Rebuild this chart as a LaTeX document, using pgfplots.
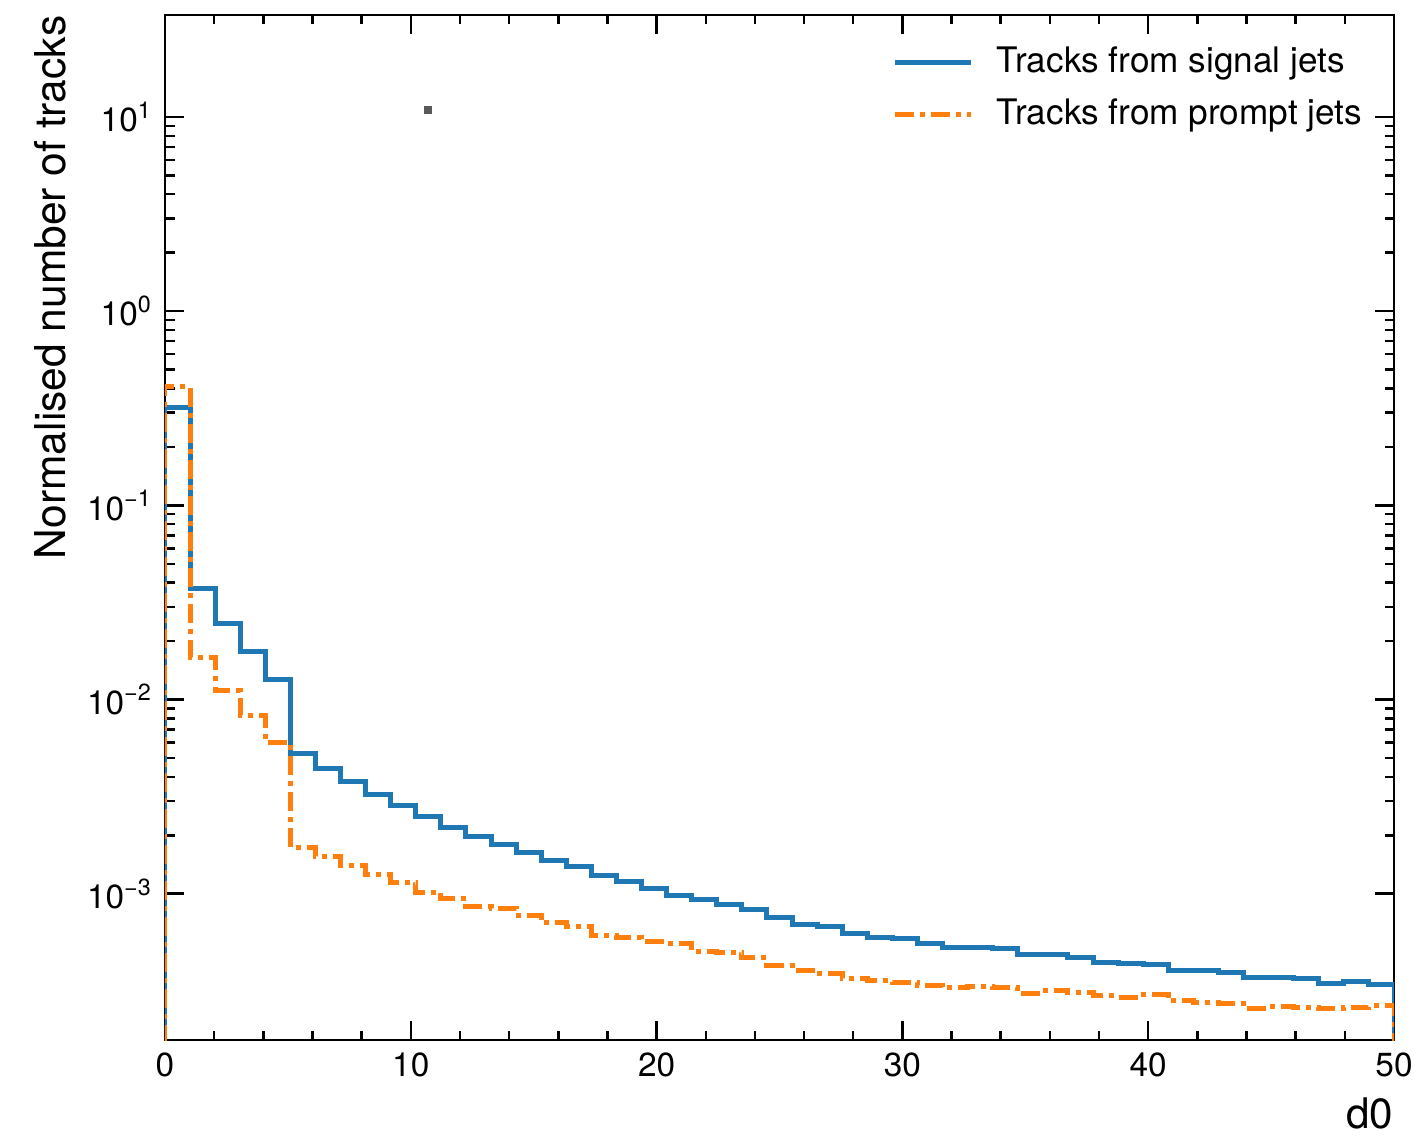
\documentclass[border=0pt]{standalone}
\usepackage{fontspec}
\setmainfont{TeX Gyre Heros}
\usepackage{pgfplots}
\usepackage{pgfplotstable}
\pgfplotsset{compat=1.18}

\definecolor{mplblue}{HTML}{1F77B4}
\definecolor{mplorange}{HTML}{FF7F0E}

% bin edges: 49 bins from 0 to 50; first/last rows close the step outline
\pgfplotstableread{
x       sig       prompt
0       1e-6      1e-6
0       0.318     0.408
1.0204  0.0374    0.0165
2.0408  0.0247    0.0111
3.0612  0.0176    0.00832
4.0816  0.0127    0.0060
5.1020  0.00528   0.00173
6.1224  0.00442   0.00155
7.1429  0.00378   0.00139
8.1633  0.00324   0.00125
9.1837  0.00283   0.00114
10.2041 0.00249   0.00102
11.2245 0.00219   0.000946
12.2449 0.00197   0.000857
13.2653 0.00180   0.000841
14.2857 0.00163   0.000777
15.3061 0.00148   0.000709
16.3265 0.00138   0.000676
17.3469 0.00124   0.000612
18.3673 0.00115   0.000593
19.3878 0.00107   0.000566
20.4082 0.000977  0.000555
21.4286 0.000929  0.000507
22.4490 0.000882  0.000499
23.4694 0.000831  0.000468
24.4898 0.000756  0.000426
25.5102 0.000698  0.000403
26.5306 0.000682  0.000387
27.5510 0.000625  0.000368
28.5714 0.000596  0.000358
29.5918 0.000589  0.000351
30.6122 0.000555  0.000337
31.6327 0.000530  0.000327
32.6531 0.000526  0.000334
33.6735 0.000524  0.000327
34.6939 0.000489  0.000307
35.7143 0.000488  0.000319
36.7347 0.000470  0.000309
37.7551 0.000441  0.000298
38.7755 0.000438  0.000293
39.7959 0.000433  0.000302
40.8163 0.000400  0.000281
41.8367 0.000403  0.000275
42.8571 0.000391  0.000273
43.8776 0.000369  0.000257
44.8980 0.000372  0.000262
45.9184 0.000368  0.000261
46.9388 0.000343  0.000257
47.9592 0.000352  0.000260
48.9796 0.000341  0.000265
50      0.000341  0.000265
50      1e-6      1e-6
}\histdata

\begin{document}
\begin{tikzpicture}
\begin{axis}[
    name=ax,
    scale only axis,
    width=12.29cm,
    height=10.25cm,
    xmin=0, xmax=50,
    ymode=log,
    ymin=1.765e-4, ymax=33.5,
    axis line style={line width=0.25mm},
    every tick/.style={black, line width=0.25mm},
    tick align=inside,
    major tick length=1.9mm,
    minor tick length=0.95mm,
    xtick={0,10,20,30,40,50},
    xticklabels={0,10,20,30,40,50},
    minor x tick num=4,
    ytick={1e-3,1e-2,1e-1,1,10},
    yticklabels={10\textsuperscript{−3},10\textsuperscript{−2},10\textsuperscript{−1},10\textsuperscript{0},10\textsuperscript{1}},
    tick label style={font=\fontsize{9.5}{11}\selectfont},
    legend cell align=left,
    legend image code/.code={\draw[#1] (0mm,0mm) -- (7.6mm,0mm);
                             \path[draw=none] (7.6mm,0mm) -- (9.6mm,0mm);},
    legend style={draw=none, fill=none, at={(rel axis cs:0.988,0.982)}, anchor=north east,
                  font=\fontsize{10}{12}\selectfont, row sep=0.85mm,
                  nodes={inner sep=0.6mm}},
]
\addplot[const plot, mplblue, line width=0.5mm, line join=miter]
    table[x=x, y=sig] {\histdata};
\addlegendentry{Tracks from signal jets}
\addplot[const plot, mplorange, line width=0.5mm, line join=miter,
         dash pattern=on 1.9mm off 0.6mm on 0.5mm off 0.6mm]
    table[x=x, y=prompt] {\histdata};
\addlegendentry{Tracks from prompt jets}
\addplot[only marks, mark=square*, mark size=0.35mm, color=black!65, forget plot]
    coordinates {(10.70, 10.85)};
\end{axis}
\node[rotate=90, anchor=base east, inner sep=0pt, font=\fontsize{12.1}{14}\selectfont]
    at ([xshift=-10mm]ax.north west) {Normalised number of tracks};
\node[anchor=base east, inner sep=0pt, font=\fontsize{12}{14}\selectfont]
    at ([yshift=-8.9mm]ax.south east) {d0};
\pgfresetboundingbox
\path[use as bounding box] ([xshift=-16.5mm, yshift=-9.6mm]ax.south west)
    rectangle ([xshift=1.9mm, yshift=1.5mm]ax.north east);
\end{tikzpicture}
\end{document}
